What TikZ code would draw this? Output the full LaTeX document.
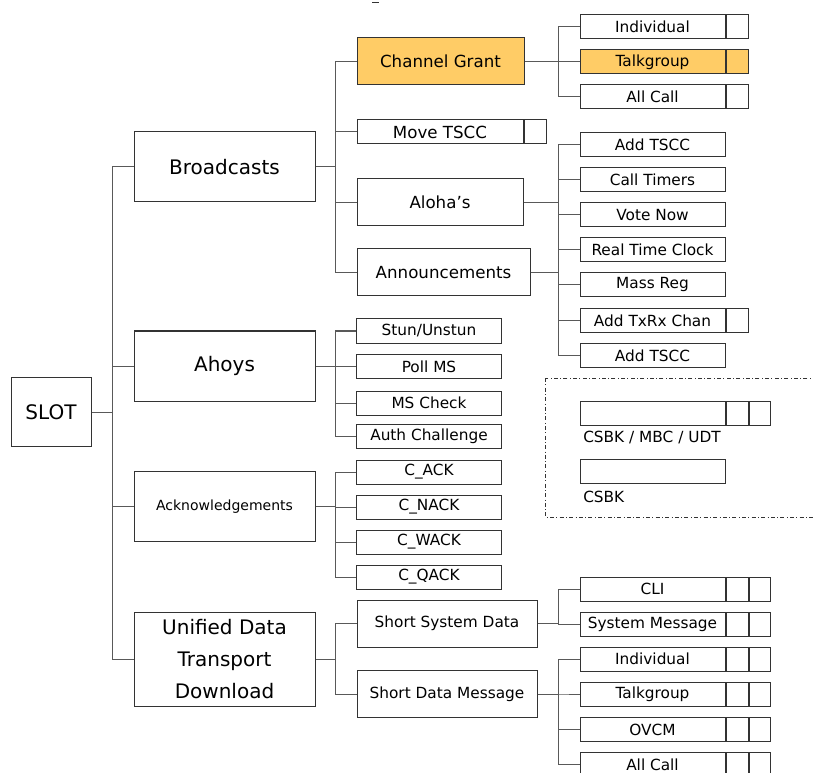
\documentclass[tikz,border=0pt]{standalone}
\usepackage{fontspec}
\setmainfont{DejaVu Sans}
\usetikzlibrary{positioning}

\definecolor{grantfill}{HTML}{FFCC66}

\begin{document}
\begin{tikzpicture}[
    x=0.75pt, y=-0.75pt,
    box/.style    = {rectangle, draw=black!80, line width=0.75pt,
                     fill=white, inner sep=0pt, align=center},
    topbox/.style = {box, minimum width=135.75pt, minimum height=52.5pt,
                     font=\fontsize{15}{24}\selectfont},
    midbox/.style = {box, minimum height=35.25pt,
                     font=\fontsize{12.5}{15}\selectfont},
    leaf/.style   = {box, minimum width=108.75pt, minimum height=18pt,
                     font=\fontsize{11.5}{13}\selectfont},
    cell/.style   = {box, minimum width=16.5pt, minimum height=18pt},
    hot/.style    = {fill=grantfill},
    link/.style   = {draw=black!65, line width=0.75pt},
    frame/.style  = {draw=black!80, line width=0.6pt,
                     dash pattern=on 3pt off 1.8pt on 0.6pt off 1.8pt},
    lbl/.style    = {anchor=west, inner sep=0pt,
                     font=\fontsize{11.5}{13}\selectfont},
  ]
  \useasboundingbox (0,0) rectangle (813,773);
  % root and first level
  \node[box, minimum width=60pt, minimum height=51.75pt,
        font=\fontsize{15}{18}\selectfont] (slot) at (51,412) {SLOT};
  \node[topbox] (bc)  at (224.5,167)   {Broadcasts};
  \node[topbox] (ah)  at (224.5,366)   {Ahoys};
  \node[topbox, font=\fontsize{10.5}{13}\selectfont] (ack) at (224.5,506.5) {Acknowledgements};
  \node[topbox, minimum height=70.5pt] (udt) at (224.5,659)
        {Unified Data\\Transport\\Download};
  % broadcasts
  \node[midbox, hot, minimum width=125.25pt] (cg)  at (440.5,61.5)  {Channel Grant};
  \node[leaf, minimum width=124.5pt, font=\fontsize{12.5}{15}\selectfont]
        (mv) at (440,132) {Move TSCC};
  \node[cell, right=0pt of mv] (mvc) {};
  \node[midbox, minimum width=124.5pt]  (al)  at (440,202.5)  {Aloha's};
  \node[midbox, minimum width=129.75pt] (ann) at (443.5,272.5) {Announcements};
  % channel grant targets
  \node[leaf]      (gi)  at (652.5,27) {Individual};
  \node[leaf, hot] (gt)  at (652.5,62) {Talkgroup};
  \node[leaf]      (ga)  at (652.5,97) {All Call};
  \node[cell, right=0pt of gi] (gic) {};
  \node[cell, hot, right=0pt of gt] (gtc) {};
  \node[cell, right=0pt of ga] (gac) {};
  % announcement types
  \node[leaf] (n1) at (652.5,145) {Add TSCC};
  \node[leaf] (n2) at (652.5,180) {Call Timers};
  \node[leaf] (n3) at (652.5,215) {Vote Now};
  \node[leaf] (n4) at (652.5,250) {Real Time Clock};
  \node[leaf] (n5) at (652.5,285) {Mass Reg};
  \node[leaf] (n6) at (652.5,320.5) {Add TxRx Chan};
  \node[leaf] (n7) at (652.5,355.5) {Add TSCC};
  \node[cell, right=0pt of n6] (n6c) {};
  % ahoys
  \node[leaf] (h1) at (429,331)   {Stun/Unstun};
  \node[leaf] (h2) at (429,366.5) {Poll MS};
  \node[leaf] (h3) at (429,403)   {MS Check};
  \node[leaf] (h4) at (429,436.5) {Auth Challenge};
  % acknowledgements
  \node[leaf] (k1) at (429,472) {C\_ACK};
  \node[leaf] (k2) at (429,507) {C\_NACK};
  \node[leaf] (k3) at (429,542) {C\_WACK};
  \node[leaf] (k4) at (429,577) {C\_QACK};
  % unified data transport
  \node[midbox, minimum width=135pt, font=\fontsize{11.5}{13}\selectfont]
        (ssd) at (447,623.5) {Short System Data};
  \node[midbox, minimum width=135pt, font=\fontsize{11.5}{13}\selectfont]
        (sdm) at (447,694)   {Short Data Message};
  \node[leaf] (s1) at (652.5,589) {CLI};
  \node[leaf] (s2) at (652.5,624) {System Message};
  \node[leaf] (m1) at (652.5,659) {Individual};
  \node[leaf] (m2) at (652.5,694) {Talkgroup};
  \node[leaf] (m3) at (652.5,729.5) {OVCM};
  \node[leaf] (m4) at (652.5,764.5) {All Call};
  \foreach \n in {s1,s2,m1,m2,m3,m4}{
    \node[cell, right=0pt of \n] (\n c) {};
    \node[cell, right=0pt of \n c, minimum width=15.75pt] (\n cc) {};
  }
  % edges
  \foreach \p/\cs in {slot/{bc,ah,ack,udt}, bc/{cg,mv,al,ann},
                      cg/{gi,gt,ga}, al/{n1,n2,n3},
                      ann/{n1,n2,n3,n4,n5,n6,n7},
                      ah/{h1,h2,h3,h4}, ack/{k1,k2,k3,k4},
                      udt/{ssd,sdm}, ssd/{s1,s2}, sdm/{m1,m2,m3,m4}}{
    \foreach \c in \cs
      \draw[link] (\p.east) -| ([xshift=-15.75pt]\c.west) -- (\c.west);
  }
  % legend
  \draw[frame] (545,378) rectangle (830,517);
  \node[leaf] (lg1) at (652.5,413) {};
  \node[cell, right=0pt of lg1] (lg1c) {};
  \node[cell, right=0pt of lg1c, minimum width=15.75pt] (lg1cc) {};
  \node[lbl] (lt1) at (583,438) {CSBK / MBC / UDT};
  \node[leaf] (lg2) at (652.5,471) {};
  \node[lbl] (lt2) at (583,497) {CSBK};
  % stray mark at the top
  \draw[black!80, line width=0.75pt] (372,3) -- (379,3);
\end{tikzpicture}
\end{document}
